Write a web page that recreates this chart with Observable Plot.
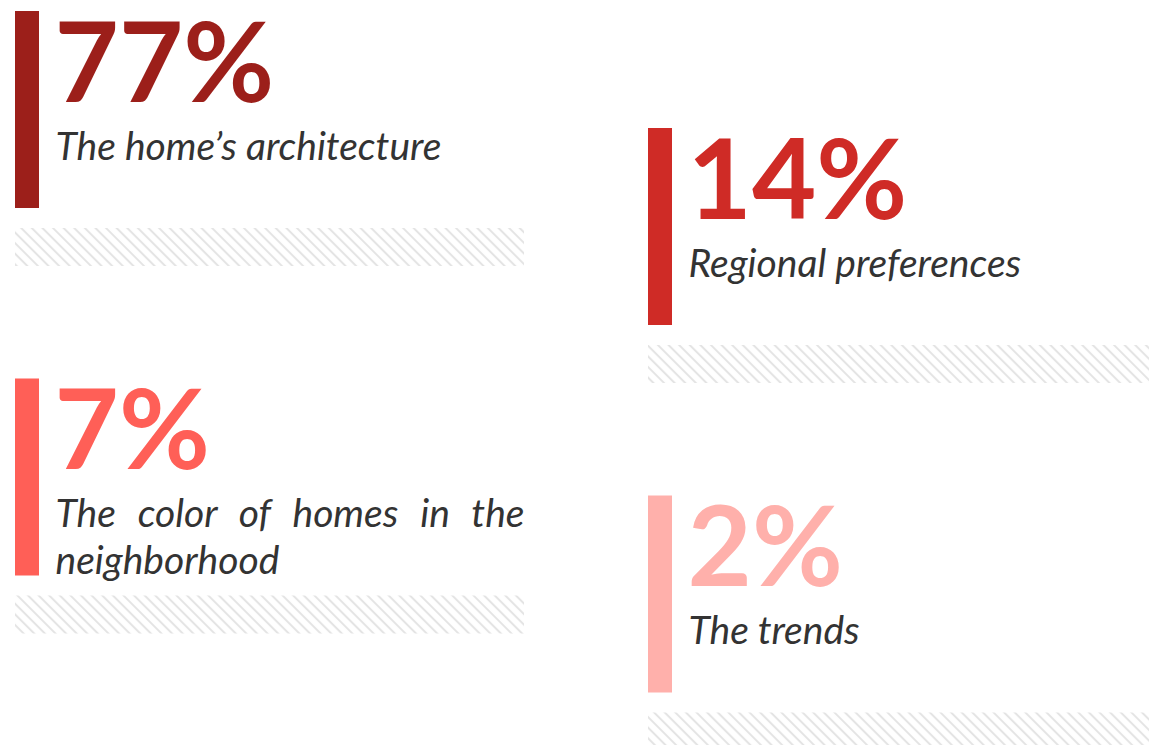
<!DOCTYPE html>
<html>
<head>
<meta charset="utf-8">
<script src="https://cdn.jsdelivr.net/npm/d3@7"></script>
<script src="https://cdn.jsdelivr.net/npm/@observablehq/plot@0.6"></script>
<style>
  html, body { margin: 0; padding: 0; background: #fff; }
  #chart { width: 1149px; height: 745px; overflow: hidden; }
</style>
</head>
<body>
<div id="chart"></div>
<script>
// ---- data ----
const values = [77, 14, 7, 2];
const labels = ["The home’s architecture", "Regional preferences", "The color of homes in the neighborhood", "The trends"];
const labelLines = [["The home’s architecture"], ["Regional preferences"], ["The color of homes in the", "neighborhood"], ["The trends"]];
const colors = ["#9c1f1a", "#cf2b26", "#ff5f57", "#ffb0ab"];

// ---- layout (grid of stat blocks) ----
const W = 1149, H = 745;
const colX = [15, 648];
const rowStep = 367.5, colShift = 117, top0 = 11;
const blocks = values.map((v, i) => {
  const col = i % 2, row = Math.floor(i / 2);
  const x0 = colX[col];
  const top = top0 + row * rowStep + col * colShift;
  return {i, value: v, label: labels[i], lines: labelLines[i], color: colors[i], x0, top};
});
const textRows = blocks.flatMap(b => b.lines.map((line, k) => ({...b, line, k, last: k === b.lines.length - 1, multi: b.lines.length > 1})));

const plot = Plot.plot({
  width: W, height: H,
  margin: 0,
  x: {domain: [0, W], range: [0, W], axis: null},
  y: {domain: [0, H], range: [0, H], axis: null},
  style: {background: "#fff", overflow: "hidden"},
  marks: [
    // hatched strip below each block
    Plot.rect(blocks, {
      x1: d => d.x0, x2: d => d.x0 + 509,
      y1: d => d.top + 217, y2: d => d.top + 255,
      fill: "url(#hatch)"
    }),
    // vertical color bar
    Plot.rect(blocks, {
      x1: d => d.x0, x2: d => d.x0 + 24,
      y1: d => d.top, y2: d => d.top + 197,
      fill: d => d.color
    }),
    // big percentage
    Plot.text(blocks, {
      x: d => d.x0 + 39, y: d => d.top + 90,
      text: d => `${d.value}%`,
      fill: d => d.color,
      textAnchor: "start", lineAnchor: "bottom",
      fontFamily: "Lato", fontWeight: 700, fontSize: 111
    }),
    // label lines
    Plot.text(textRows, {
      x: d => d.x0 + 40, y: d => d.top + 148 + d.k * 47,
      text: d => d.line,
      fill: "#333333",
      textAnchor: "start", lineAnchor: "bottom",
      fontFamily: "Lato", fontStyle: "italic", fontSize: 39,
      className: "lbl"
    })
  ]
});

// pattern definition for the hatch
const svg = d3.select(plot.tagName === "svg" ? plot : plot.querySelector("svg"));
const defs = svg.insert("defs", ":first-child");
const pat = defs.append("pattern")
  .attr("id", "hatch").attr("patternUnits", "userSpaceOnUse")
  .attr("width", 7.5).attr("height", 7.5)
  .attr("patternTransform", "rotate(45)");
pat.append("rect").attr("width", 7.5).attr("height", 7.5).attr("fill", "#fff");
pat.append("line").attr("x1", 0).attr("y1", 3.75).attr("x2", 7.5).attr("y2", 3.75)
  .attr("stroke", "#e4e4e4").attr("stroke-width", 2);

document.getElementById("chart").appendChild(plot);

// justify non-final lines of multi-line labels to the block's right edge
svg.selectAll("text").each(function() {
  const t = this.textContent;
  const row = textRows.find(r => r.line === t);
  if (!row || !row.multi || row.last) return;
  const target = (row.x0 + 509) - (row.x0 + 40);
  const natural = this.getComputedTextLength();
  const spaces = (t.match(/ /g) || []).length;
  if (spaces > 0 && natural < target) {
    this.style.wordSpacing = ((target - natural) / spaces) + "px";
  }
});
</script>
</body>
</html>
